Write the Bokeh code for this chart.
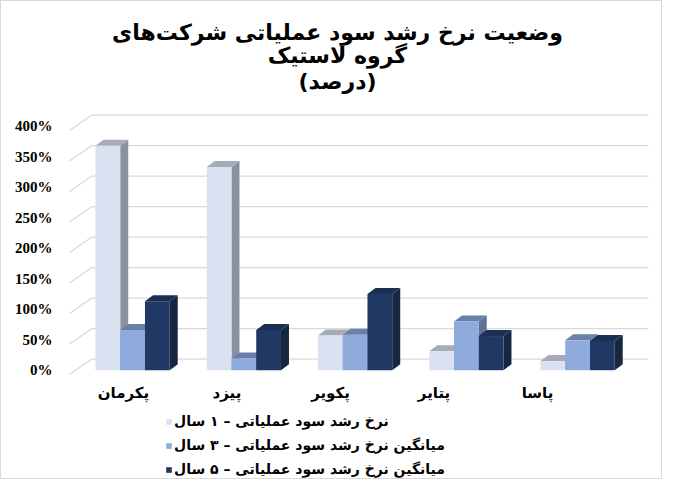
from bokeh.plotting import figure
from bokeh.models import Range1d, LinearAxis, FixedTicker, Legend, LegendItem, ColumnDataSource
from bokeh.core.properties import value
from bokeh.embed import file_html
from bokeh.resources import INLINE

# ---------------- data ----------------
categories = ["پکرمان", "پیزد", "پکویر", "پتایر", "پاسا"]
growth_1y = [368, 333, 57, 31, 15]
avg_3y = [66, 19, 58, 80, 49]
avg_5y = [113, 66, 125, 56, 48]
series_names = [
    "نرخ رشد سود عملیاتی – ۱ سال",
    "میانگین نرخ رشد سود عملیاتی – ۳ سال",
    "میانگین نرخ رشد سود عملیاتی – ۵ سال",
]
y_ticks = [0, 50, 100, 150, 200, 250, 300, 350, 400]
title_lines = ["وضعیت نرخ رشد سود عملیاتی شرکت‌های", "گروه لاستیک", "(درصد)"]

# ---------------- styling / layout ----------------
front_colors = ["#DAE1F1", "#8FAADC", "#203864"]
top_colors = ["#A6ACB7", "#6A80A9", "#1B2F54"]
side_colors = ["#8A919C", "#5E7196", "#17273F"]
grid_color = "#D9D9D9"
FONT = "DejaVu Sans"

W, H = 662, 479
FRAME_L, FRAME_R, FRAME_T, FRAME_B = 62, 662, 0, 479   # canvas px
GROUP0, GROUP_STEP = 131.1, 111.25
BASE_Y, PX_PER_UNIT = 368.7, 0.61
LABEL0, LABEL_STEP = 122.0, 103.5
AXIS_Y = 371
BAR_PX, DX_PX, DY_PX = 24.75, 8.0, 6.0
LEG_L, LEG_B = 164, 480

fw = FRAME_R - FRAME_L
fh = FRAME_B - FRAME_T
xs = -(GROUP0 - FRAME_L) / GROUP_STEP
xe = xs + fw / GROUP_STEP
ys = -(FRAME_B - BASE_Y) / PX_PER_UNIT
ye = ys + fh / PX_PER_UNIT
ls = -(LABEL0 - FRAME_L) / LABEL_STEP
le = ls + fw / LABEL_STEP


def X(px):
    return xs + (px - FRAME_L) / GROUP_STEP


def Y(py):
    return ys + (FRAME_B - py) / PX_PER_UNIT


bw = BAR_PX / GROUP_STEP
dx = DX_PX / GROUP_STEP
dy = DY_PX / PX_PER_UNIT

p = figure(
    width=W, height=H,
    x_range=Range1d(xs, xe), y_range=Range1d(ys, ye),
    output_backend="svg", toolbar_location=None,
    x_axis_location=None,
    min_border_left=FRAME_L, min_border_right=W - FRAME_R,
    min_border_top=FRAME_T, min_border_bottom=H - FRAME_B,
)
p.styles = {"border": "1px solid #D9D9D9"}
p.extra_x_ranges = {"labels": Range1d(ls, le)}
p.grid.visible = False
p.outline_line_color = None
p.background_fill_color = "white"
p.border_fill_color = "white"

# y axis
ya = p.yaxis[0]
ya.ticker = FixedTicker(ticks=y_ticks)
ya.major_label_overrides = {v: f"{v}%" for v in y_ticks}
ya.axis_line_color = None
ya.major_tick_line_color = None
ya.minor_tick_line_color = None
ya.major_label_standoff = 5
ya.major_label_text_font = "Liberation Serif"
ya.major_label_text_font_style = "bold"
ya.major_label_text_font_size = "15px"
ya.major_label_text_color = "black"

# category axis (placed at the floor line inside the frame)
xa = LinearAxis(x_range_name="labels", ticker=FixedTicker(ticks=list(range(len(categories)))),
                major_label_overrides={i: c for i, c in enumerate(categories)},
                fixed_location=Y(AXIS_Y))
xa.axis_line_color = None
xa.major_tick_line_color = None
xa.minor_tick_line_color = None
xa.major_label_standoff = 5
xa.major_label_text_font = FONT
xa.major_label_text_font_style = "bold"
xa.major_label_text_font_size = "15px"
xa.major_label_text_color = "black"
p.add_layout(xa, "below")

# back wall gridlines and left side wall lines
back_shift = 18.0
front_shift = -7.0
gx0 = [X(90)] * len(y_ticks)
gx1 = [X(647)] * len(y_ticks)
gy = [v + back_shift for v in y_ticks]
p.segment(x0=gx0, y0=gy, x1=gx1, y1=gy, line_color=grid_color, line_width=1.3)
p.segment(x0=[X(68)] * len(y_ticks), y0=[v + front_shift for v in y_ticks],
          x1=gx0, y1=gy, line_color=grid_color, line_width=1.3)

# 3D bars
series = [growth_1y, avg_3y, avg_5y]
front_renderers = []
for k, vals in enumerate(series):
    xc = [i + (k - 1) * bw for i in range(len(vals))]
    xl = [c - bw / 2 for c in xc]
    xr = [c + bw / 2 for c in xc]
    side_xs = [[r, r, r + dx, r + dx] for r in xr]
    side_ys = [[0, v, v + dy, dy] for v in vals]
    top_xs = [[l, r, r + dx, l + dx] for l, r in zip(xl, xr)]
    top_ys = [[v, v, v + dy, v + dy] for v in vals]
    p.patches(side_xs, side_ys, fill_color=side_colors[k], line_color=None)
    p.patches(top_xs, top_ys, fill_color=top_colors[k], line_color=None)
    src = ColumnDataSource(dict(x=xc, top=vals))
    r = p.vbar(x="x", top="top", bottom=0, width=bw, source=src,
               fill_color=front_colors[k], line_color=None)
    front_renderers.append(r)

# title
title_y_px = [31, 54, 80]
p.text(x=[X(336)] * 3, y=[Y(t) for t in title_y_px], text=title_lines,
       text_align="center", text_baseline="middle",
       text_font=value(FONT), text_font_style="bold", text_font_size="22px",
       text_color="black")

legend = Legend(
    items=[LegendItem(label=n, renderers=[r]) for n, r in zip(series_names, front_renderers)],
    location=(LEG_L - FRAME_L, FRAME_B - LEG_B), orientation="vertical",
    glyph_width=7, glyph_height=7, label_standoff=2, spacing=0, label_height=24,
    padding=0, margin=0, border_line_color=None, background_fill_alpha=0,
    label_text_font=FONT, label_text_font_style="bold", label_text_font_size="14px",
    label_text_color="black",
)
p.add_layout(legend, "center")

open("out.html", "w").write(file_html(p, INLINE))
